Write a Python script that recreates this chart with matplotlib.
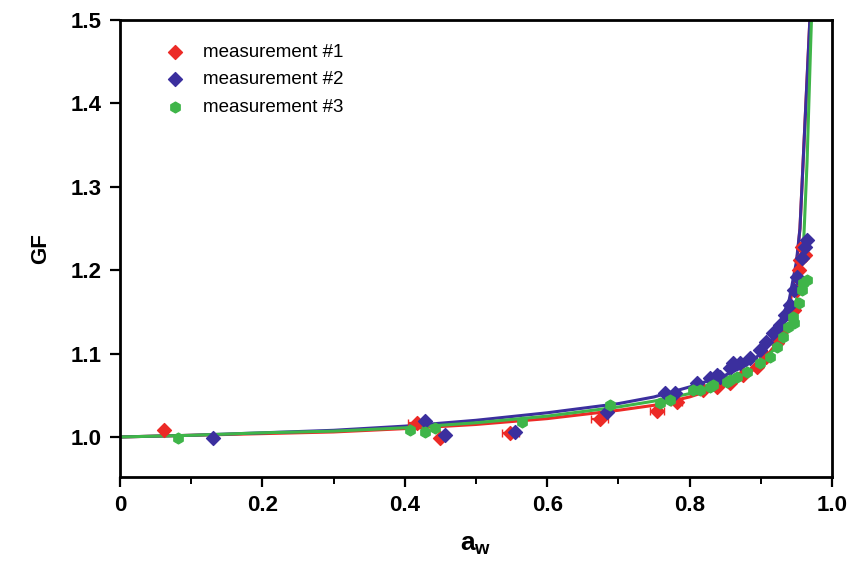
import matplotlib
matplotlib.use("Agg")
import matplotlib.pyplot as plt
from matplotlib.ticker import MultipleLocator

plt.rcParams['font.family'] = ['Liberation Sans', 'DejaVu Sans']
plt.rcParams['mathtext.fontset'] = 'custom'
plt.rcParams['mathtext.bf'] = 'Liberation Sans:bold'
plt.rcParams['mathtext.rm'] = 'Liberation Sans'

# ---- data ----
labels = ["measurement #1", "measurement #2", "measurement #3"]
colors = ["#ec2a26", "#3b2f9e", "#3fb549"]

m1_aw = [0.062, 0.417, 0.449, 0.548, 0.674, 0.754, 0.782, 0.819, 0.838, 0.857,
         0.875, 0.894, 0.908, 0.923, 0.931, 0.938, 0.946, 0.951, 0.953, 0.955,
         0.958, 0.962]
m1_gf = [1.008, 1.017, 0.999, 1.005, 1.021, 1.031, 1.042, 1.056, 1.060, 1.065,
         1.074, 1.084, 1.096, 1.113, 1.128, 1.149, 1.152, 1.176, 1.200, 1.212,
         1.228, 1.218]
m1_xerr = [0.0, 0.012, 0.0, 0.012, 0.012, 0.010, 0.008, 0.0, 0.0, 0.0,
           0.0, 0.0, 0.0, 0.0, 0.0, 0.0, 0.0, 0.0, 0.0, 0.0,
           0.0, 0.0]

m2_aw = [0.131, 0.428, 0.456, 0.555, 0.684, 0.765, 0.780, 0.810, 0.829, 0.838,
         0.843, 0.857, 0.861, 0.871, 0.885, 0.899, 0.908, 0.917, 0.927, 0.934,
         0.941, 0.946, 0.951, 0.958, 0.962, 0.965]
m2_gf = [0.999, 1.019, 1.002, 1.006, 1.030, 1.053, 1.053, 1.065, 1.071, 1.074,
         1.072, 1.083, 1.089, 1.089, 1.095, 1.104, 1.114, 1.125, 1.134, 1.146,
         1.158, 1.176, 1.192, 1.215, 1.228, 1.236]

m3_aw = [0.081, 0.407, 0.428, 0.442, 0.565, 0.688, 0.758, 0.772, 0.805, 0.815,
         0.829, 0.833, 0.852, 0.857, 0.866, 0.880, 0.899, 0.913, 0.923, 0.931,
         0.938, 0.945, 0.946, 0.953, 0.958, 0.959, 0.965]
m3_gf = [0.999, 1.008, 1.006, 1.011, 1.018, 1.038, 1.041, 1.044, 1.056, 1.056,
         1.060, 1.062, 1.066, 1.068, 1.072, 1.078, 1.089, 1.096, 1.108, 1.120,
         1.132, 1.144, 1.137, 1.161, 1.176, 1.185, 1.188]

# fitted curves
fit_aw = [0.0, 0.1, 0.2, 0.3, 0.4, 0.5, 0.6, 0.7, 0.75, 0.8, 0.85, 0.88, 0.9,
          0.92, 0.94, 0.95, 0.955, 0.96, 0.965, 0.97, 0.975]
fit1_gf = [1.000, 1.002, 1.004, 1.006, 1.010, 1.015, 1.022, 1.032, 1.038, 1.048,
           1.062, 1.074, 1.088, 1.110, 1.155, 1.205, 1.250, 1.340, 1.430, 1.520, 1.650]
fit2_gf = [1.000, 1.002, 1.005, 1.008, 1.013, 1.020, 1.029, 1.040, 1.048, 1.060,
           1.074, 1.086, 1.100, 1.122, 1.165, 1.210, 1.250, 1.340, 1.430, 1.520, 1.650]
fit3_gf = [1.000, 1.002, 1.005, 1.007, 1.011, 1.017, 1.025, 1.036, 1.043, 1.052,
           1.065, 1.078, 1.090, 1.106, 1.135, 1.164, 1.190, 1.230, 1.330, 1.470, 1.600]

x_ticks = [0, 0.2, 0.4, 0.6, 0.8, 1.0]
x_ticklabels = ["0", "0.2", "0.4", "0.6", "0.8", "1.0"]
y_ticks = [1.0, 1.1, 1.2, 1.3, 1.4, 1.5]
y_ticklabels = ["1.0", "1.1", "1.2", "1.3", "1.4", "1.5"]

# ---- plot ----
fig = plt.figure(figsize=(8.53, 5.62), dpi=100)
ax = fig.add_axes([120 / 853, 1 - 477 / 562, 712 / 853, 457 / 562])

for gf, c in zip([fit1_gf, fit2_gf, fit3_gf], colors):
    ax.plot(fit_aw, gf, color=c, lw=2.2, zorder=2)

ax.errorbar(m1_aw, m1_gf, xerr=m1_xerr, fmt='none', ecolor=colors[0],
            elinewidth=1.6, capsize=3, zorder=3)
ax.scatter(m1_aw, m1_gf, marker='D', s=50, color=colors[0], label=labels[0], zorder=4)
ax.scatter(m2_aw, m2_gf, marker='D', s=50, color=colors[1], label=labels[1], zorder=4)
ax.scatter(m3_aw, m3_gf, marker='h', s=60, color=colors[2], label=labels[2], zorder=5)

ax.set_xlim(0, 1.0)
ax.set_ylim(0.952, 1.5)
ax.set_xticks(x_ticks)
ax.set_xticklabels(x_ticklabels)
ax.set_yticks(y_ticks)
ax.set_yticklabels(y_ticklabels)
ax.xaxis.set_minor_locator(MultipleLocator(0.1))

for s in ax.spines.values():
    s.set_linewidth(2.0)
ax.tick_params(axis='both', which='major', direction='out', length=7, width=1.6,
               labelsize=16, pad=6)
ax.tick_params(axis='x', which='minor', direction='out', length=5, width=1.4)
for lab in ax.get_xticklabels() + ax.get_yticklabels():
    lab.set_fontweight('bold')

ax.set_ylabel("GF", fontsize=16, fontweight='bold', labelpad=14)
ax.set_xlabel(r"$\mathbf{a_w}$", fontsize=19, labelpad=12)

leg = ax.legend(loc='upper left', bbox_to_anchor=(0.038, 0.985), frameon=False,
                fontsize=13.5, handletextpad=0.9, labelspacing=0.55,
                scatterpoints=1, handlelength=1.2)

fig.savefig("out.png", dpi=100)
